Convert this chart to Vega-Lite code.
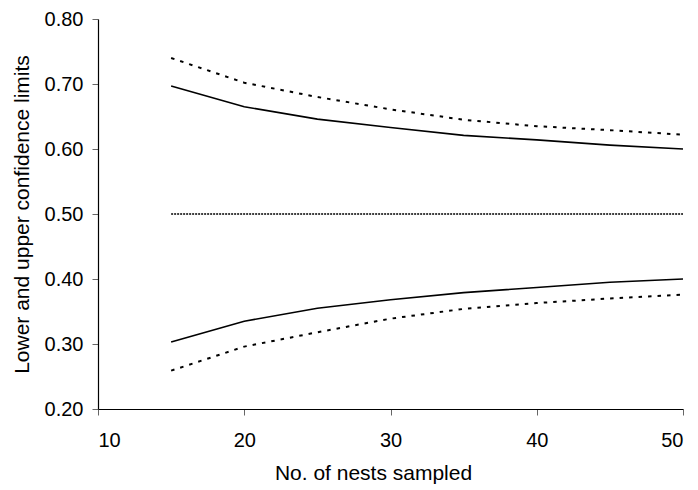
{
  "$schema": "https://vega.github.io/schema/vega-lite/v6.json",
  "width": 585,
  "height": 390,
  "autosize": {"type": "none"},
  "padding": {"left": 98, "top": 19, "right": 15, "bottom": 81},
  "background": "white",
  "config": {
    "view": {"stroke": null},
    "font": "Liberation Sans",
    "axis": {
      "grid": false,
      "domainColor": "#000000",
      "domainWidth": 1.2,
      "tickColor": "#666666",
      "tickSize": 6,
      "labelFont": "Liberation Sans",
      "labelFontSize": 20,
      "labelColor": "#000000",
      "titleFont": "Liberation Sans",
      "titleFontSize": 21,
      "titleFontWeight": "normal",
      "titleColor": "#000000"
    }
  },
  "data": {
    "values": [
      {"n": 15, "limit": 0.697, "series": "upper", "method": "solid"},
      {"n": 20, "limit": 0.665, "series": "upper", "method": "solid"},
      {"n": 25, "limit": 0.646, "series": "upper", "method": "solid"},
      {"n": 30, "limit": 0.633, "series": "upper", "method": "solid"},
      {"n": 35, "limit": 0.621, "series": "upper", "method": "solid"},
      {"n": 40, "limit": 0.614, "series": "upper", "method": "solid"},
      {"n": 45, "limit": 0.606, "series": "upper", "method": "solid"},
      {"n": 50, "limit": 0.600, "series": "upper", "method": "solid"},
      {"n": 15, "limit": 0.303, "series": "lower", "method": "solid"},
      {"n": 20, "limit": 0.335, "series": "lower", "method": "solid"},
      {"n": 25, "limit": 0.355, "series": "lower", "method": "solid"},
      {"n": 30, "limit": 0.368, "series": "lower", "method": "solid"},
      {"n": 35, "limit": 0.379, "series": "lower", "method": "solid"},
      {"n": 40, "limit": 0.387, "series": "lower", "method": "solid"},
      {"n": 45, "limit": 0.395, "series": "lower", "method": "solid"},
      {"n": 50, "limit": 0.400, "series": "lower", "method": "solid"},
      {"n": 15, "limit": 0.740, "series": "upper2", "method": "dashed"},
      {"n": 20, "limit": 0.702, "series": "upper2", "method": "dashed"},
      {"n": 25, "limit": 0.680, "series": "upper2", "method": "dashed"},
      {"n": 30, "limit": 0.661, "series": "upper2", "method": "dashed"},
      {"n": 35, "limit": 0.645, "series": "upper2", "method": "dashed"},
      {"n": 40, "limit": 0.635, "series": "upper2", "method": "dashed"},
      {"n": 45, "limit": 0.629, "series": "upper2", "method": "dashed"},
      {"n": 50, "limit": 0.622, "series": "upper2", "method": "dashed"},
      {"n": 15, "limit": 0.259, "series": "lower2", "method": "dashed"},
      {"n": 20, "limit": 0.296, "series": "lower2", "method": "dashed"},
      {"n": 25, "limit": 0.318, "series": "lower2", "method": "dashed"},
      {"n": 30, "limit": 0.339, "series": "lower2", "method": "dashed"},
      {"n": 35, "limit": 0.354, "series": "lower2", "method": "dashed"},
      {"n": 40, "limit": 0.363, "series": "lower2", "method": "dashed"},
      {"n": 45, "limit": 0.370, "series": "lower2", "method": "dashed"},
      {"n": 50, "limit": 0.376, "series": "lower2", "method": "dashed"},
      {"n": 15, "limit": 0.5, "series": "mid", "method": "dotted"},
      {"n": 20, "limit": 0.5, "series": "mid", "method": "dotted"},
      {"n": 25, "limit": 0.5, "series": "mid", "method": "dotted"},
      {"n": 30, "limit": 0.5, "series": "mid", "method": "dotted"},
      {"n": 35, "limit": 0.5, "series": "mid", "method": "dotted"},
      {"n": 40, "limit": 0.5, "series": "mid", "method": "dotted"},
      {"n": 45, "limit": 0.5, "series": "mid", "method": "dotted"},
      {"n": 50, "limit": 0.5, "series": "mid", "method": "dotted"}
    ]
  },
  "encoding": {
    "x": {
      "field": "n",
      "type": "quantitative",
      "scale": {"domain": [10, 50], "nice": false, "zero": false},
      "axis": {"values": [10, 20, 30, 40, 50], "title": "No. of nests sampled", "labelPadding": 15, "titlePadding": 12, "titleX": 275, "format": "d"}
    },
    "y": {
      "field": "limit",
      "type": "quantitative",
      "scale": {"domain": [0.2, 0.8], "nice": false, "zero": false},
      "axis": {"values": [0.2, 0.3, 0.4, 0.5, 0.6, 0.7, 0.8], "format": ".2f", "title": "Lower and upper confidence limits", "labelPadding": 9, "titlePadding": 12}
    },
    "detail": {"field": "series", "type": "nominal"}
  },
  "layer": [
    {
      "transform": [{"filter": "datum.method === 'solid'"}],
      "mark": {"type": "line", "color": "#000000", "strokeWidth": 1.6}
    },
    {
      "transform": [{"filter": "datum.method === 'dashed'"}],
      "mark": {"type": "line", "color": "#000000", "strokeWidth": 2, "strokeDash": [3.5, 6]}
    },
    {
      "transform": [{"filter": "datum.method === 'dotted'"}],
      "mark": {"type": "line", "color": "#000000", "strokeWidth": 1.6, "strokeDash": [2, 1]}
    }
  ]
}
